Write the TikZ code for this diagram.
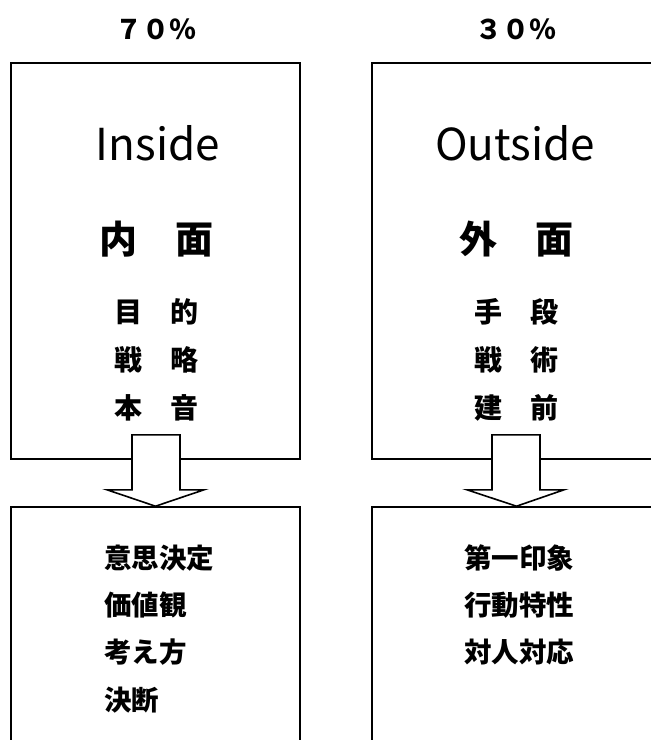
\documentclass[tikz,border=0pt]{standalone}
\usepackage{fontspec}
\setmainfont{Noto Sans CJK JP}
\usetikzlibrary{calc}
\tikzset{
  box/.style={draw=black, line width=1.6pt, fill=white, rectangle, inner sep=0pt},
  blockarrow/.style={draw=black, line width=1.6pt, fill=white, line join=miter},
  pct/.style={font=\fontsize{27}{27}\selectfont\bfseries, inner sep=0pt},
  title/.style={font=\fontsize{44}{44}\selectfont, inner sep=0pt},
  big/.style={font=\fontsize{38}{38}\selectfont\bfseries, inner sep=0pt},
  mid/.style={font=\fontsize{28}{28}\selectfont\bfseries, inner sep=0pt},
  lst/.style={font=\fontsize{27.5}{27.5}\selectfont\bfseries, inner sep=0pt, anchor=west},
}
\begin{document}
\begin{tikzpicture}[x=1pt,y=-1pt]
\useasboundingbox (0,0) rectangle (651,740);
\clip (0,0) rectangle (651,740);
% boxes
\node[box, minimum width=289pt, minimum height=396pt] (inL) at (155.5,261) {};
\node[box, minimum width=289pt, minimum height=396pt] (inR) at (516.5,261) {};
\node[box, minimum width=289pt, minimum height=300pt] (outL) at (155.5,657) {};
\node[box, minimum width=289pt, minimum height=300pt] (outR) at (516.5,657) {};
% arrows
\draw[blockarrow] ($(inL.south)+(-23.5,-25)$) -- ($(inL.south)+(24.5,-25)$) -- ($(inL.south)+(24.5,30)$) -- ($(inL.south)+(48.5,30)$) -- (outL.north) -- ($(inL.south)+(-48.5,30)$) -- ($(inL.south)+(-23.5,30)$) -- cycle;
\draw[blockarrow] ($(inR.south)+(-24.5,-25)$) -- ($(inR.south)+(23.5,-25)$) -- ($(inR.south)+(23.5,30)$) -- ($(inR.south)+(47.5,30)$) -- (outR.north) -- ($(inR.south)+(-49.5,30)$) -- ($(inR.south)+(-24.5,30)$) -- cycle;
% percentages
\node[pct] (p70) at (155.5,29) {７０％};
\node[pct] (p30) at (516,29) {３０％};
% left top
\node[title] (tIn) at (158,143) {Inside};
\node[big] (kL) at (156.5,239) {内　面};
\node[mid] (l1) at (156,312) {目　的};
\node[mid] (l2) at (156,360) {戦　略};
\node[mid] (l3) at (156,408) {本　音};
% right top
\node[title] (tOut) at (515,143) {Outside};
\node[big] (kR) at (516.5,239) {外　面};
\node[mid] (r1) at (516,312) {手　段};
\node[mid] (r2) at (516,360) {戦　術};
\node[mid] (r3) at (516,408) {建　前};
% left bottom list
\node[lst] (b1) at (104,558) {意思決定};
\node[lst] (b2) at (104,605) {価値観};
\node[lst] (b3) at (104,652) {考え方};
\node[lst] (b4) at (104,700) {決断};
% right bottom list
\node[lst] (c1) at (464,558) {第一印象};
\node[lst] (c2) at (464,605) {行動特性};
\node[lst] (c3) at (464,652) {対人対応};
\end{tikzpicture}
\end{document}
